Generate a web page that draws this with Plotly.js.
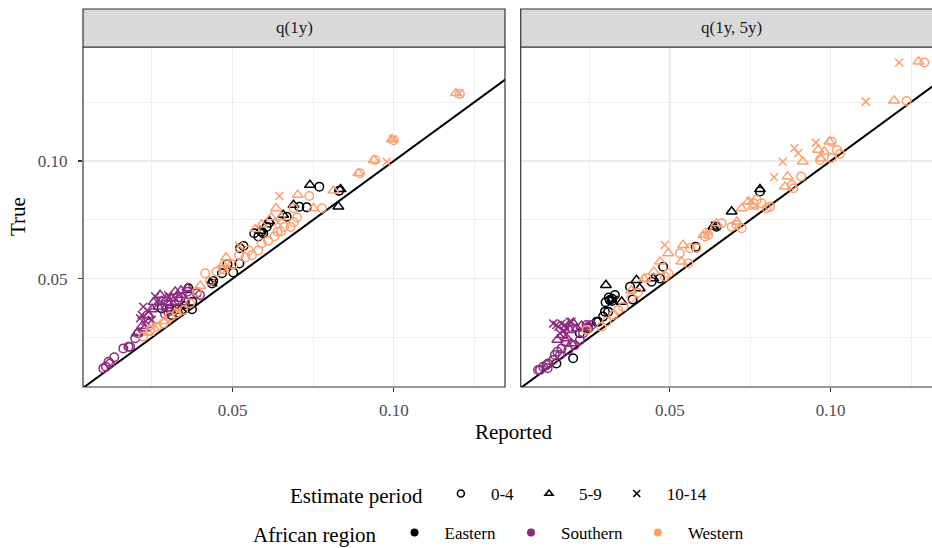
<!DOCTYPE html>
<html>
<head>
<meta charset="utf-8">
<script src="https://cdn.plot.ly/plotly-3.0.1.min.js"></script>
<style>html,body{margin:0;padding:0;background:#fff;}#chart{width:932px;height:548px;}</style>
</head>
<body>
<div id="chart"></div>
<script>
// ---------- data ----------
const panels = ["q(1y)", "q(1y, 5y)"];
const regions = ["Eastern", "Southern", "Western"];
const periods = ["0-4", "5-9", "10-14"];
const tickVals = [0.05, 0.10];
const tickText = ["0.05", "0.10"];
const identityLine = [0, 0.2];

// Panel q(1y)
const q1y_eastern_04_x = [0.0769,0.0830,0.0707,0.0730,0.0668,0.0613,0.0606,0.0567,0.0595,0.0580,0.0523,0.0534,0.0484,0.0521,0.0467,0.0502,0.0436,0.0440,0.0363,0.0375,0.0280,0.0306,0.0327,0.0347,0.0374,0.0311,0.0590,0.0330];
const q1y_eastern_04_y = [0.0891,0.0873,0.0806,0.0803,0.0763,0.0738,0.0721,0.0693,0.0693,0.0679,0.0629,0.0639,0.0561,0.0565,0.0523,0.0526,0.0480,0.0490,0.0459,0.0402,0.0374,0.0370,0.0370,0.0370,0.0370,0.0346,0.0700,0.0355];
const q1y_eastern_59_x = [0.0740,0.0835,0.0828,0.0689,0.0657,0.0613,0.0585,0.0350];
const q1y_eastern_59_y = [0.0898,0.0880,0.0806,0.0813,0.0771,0.0745,0.0703,0.0385];
const q1y_eastern_1014_x = [0.0440,0.0345];
const q1y_eastern_1014_y = [0.0485,0.0375];

const q1y_southern_04_x = [0.0099,0.0107,0.0115,0.0120,0.0133,0.0161,0.0177,0.0182,0.0198,0.0208,0.0240,0.0311,0.0332,0.0353,0.0368,0.0389,0.0399,0.0320,0.0300,0.0340,0.0360,0.0290];
const q1y_southern_04_y = [0.0119,0.0126,0.0147,0.0140,0.0166,0.0204,0.0211,0.0211,0.0247,0.0268,0.0310,0.0374,0.0409,0.0402,0.0431,0.0438,0.0431,0.0390,0.0360,0.0420,0.0445,0.0350];
const q1y_southern_59_x = [0.0275,0.0322,0.0296,0.0228,0.0203,0.0340,0.0255,0.0250,0.0270,0.0300,0.0330,0.0360,0.0220,0.0310,0.0240];
const q1y_southern_59_y = [0.0431,0.0445,0.0417,0.0289,0.0268,0.0450,0.0400,0.0370,0.0380,0.0400,0.0430,0.0460,0.0300,0.0415,0.0345];
const q1y_southern_1014_x = [0.0223,0.0213,0.0249,0.0239,0.0260,0.0270,0.0290,0.0300,0.0230,0.0218];
const q1y_southern_1014_y = [0.0381,0.0332,0.0325,0.0360,0.0424,0.0410,0.0390,0.0430,0.0320,0.0346];

const q1y_western_04_x = [0.0223,0.0244,0.0265,0.0285,0.0306,0.0327,0.0347,0.0368,0.0389,0.0415,0.0430,0.0450,0.0470,0.0500,0.0520,0.0540,0.0550,0.0560,0.0580,0.0590,0.0610,0.0630,0.0640,0.0650,0.0660,0.0680,0.0690,0.0700,0.0689,0.0777,0.0738,0.0895,0.0942,0.1000,0.1205];
const q1y_western_04_y = [0.0254,0.0282,0.0296,0.0310,0.0339,0.0353,0.0367,0.0395,0.0445,0.0523,0.0490,0.0530,0.0540,0.0560,0.0600,0.0590,0.0620,0.0600,0.0620,0.0650,0.0660,0.0680,0.0700,0.0700,0.0720,0.0720,0.0740,0.0760,0.0799,0.0799,0.0851,0.0948,0.1004,0.1088,0.1285];
const q1y_western_59_x = [0.1193,0.0994,0.0938,0.0890,0.0813,0.0702,0.0635,0.0751,0.0620,0.0590,0.0570,0.0480,0.0470,0.0400,0.0290,0.0240,0.0650];
const q1y_western_59_y = [0.1288,0.1092,0.1004,0.0948,0.0874,0.0856,0.0799,0.0799,0.0760,0.0730,0.0710,0.0590,0.0560,0.0470,0.0320,0.0270,0.0760];
const q1y_western_1014_x = [0.1203,0.0997,0.0978,0.0645,0.0520,0.0640,0.0480,0.0330,0.0260];
const q1y_western_1014_y = [0.1288,0.1092,0.0997,0.0851,0.0640,0.0740,0.0540,0.0360,0.0300];

// Panel q(1y, 5y)
const q1y5y_eastern_04_x = [0.0780,0.0645,0.0580,0.0479,0.0469,0.0443,0.0376,0.0384,0.0329,0.0313,0.0300,0.0320,0.0298,0.0272,0.0246,0.0220,0.0147,0.0199,0.0277,0.0292,0.0308,0.0320,0.0310];
const q1y5y_eastern_04_y = [0.0870,0.0721,0.0636,0.0551,0.0501,0.0487,0.0466,0.0412,0.0431,0.0409,0.0400,0.0415,0.0360,0.0317,0.0289,0.0268,0.0140,0.0162,0.0317,0.0339,0.0360,0.0405,0.0420];
const q1y5y_eastern_59_x = [0.0780,0.0692,0.0635,0.0301,0.0396,0.0406,0.0448,0.0350];
const q1y5y_eastern_59_y = [0.0880,0.0785,0.0721,0.0473,0.0494,0.0459,0.0501,0.0402];
const q1y5y_eastern_1014_x = [0.0325,0.0640];
const q1y5y_eastern_1014_y = [0.0410,0.0725];

const q1y5y_southern_04_x = [0.0090,0.0096,0.0106,0.0116,0.0121,0.0137,0.0142,0.0158,0.0163,0.0184,0.0204,0.0220,0.0230,0.0241,0.0246,0.0256,0.0120,0.0150,0.0175];
const q1y5y_southern_04_y = [0.0112,0.0112,0.0126,0.0133,0.0140,0.0155,0.0176,0.0176,0.0204,0.0197,0.0218,0.0239,0.0268,0.0303,0.0296,0.0303,0.0120,0.0190,0.0230];
const q1y5y_southern_59_x = [0.0189,0.0210,0.0179,0.0194,0.0241,0.0165,0.0200,0.0225,0.0150];
const q1y5y_southern_59_y = [0.0282,0.0289,0.0247,0.0225,0.0289,0.0260,0.0310,0.0300,0.0240];
const q1y5y_southern_1014_x = [0.0137,0.0153,0.0173,0.0189,0.0158,0.0147,0.0163,0.0178,0.0194,0.0170];
const q1y5y_southern_1014_y = [0.0310,0.0296,0.0303,0.0317,0.0268,0.0303,0.0310,0.0289,0.0317,0.0280];

const q1y5y_western_04_x = [0.1291,0.1236,0.1003,0.1019,0.1029,0.0967,0.1003,0.0908,0.0884,0.0801,0.0770,0.0785,0.0811,0.0692,0.0708,0.0723,0.0661,0.0609,0.0619,0.0562,0.0583,0.0531,0.0557,0.0495,0.0484,0.0427,0.0241,0.0287,0.0303,0.0324,0.0339,0.0355,0.0380,0.0400,0.0879,0.0760];
const q1y5y_western_04_y = [0.1418,0.1255,0.1082,0.1047,0.1030,0.1004,0.1012,0.0934,0.0884,0.0799,0.0834,0.0820,0.0806,0.0721,0.0728,0.0714,0.0735,0.0679,0.0686,0.0629,0.0629,0.0608,0.0565,0.0523,0.0508,0.0502,0.0282,0.0296,0.0317,0.0346,0.0367,0.0381,0.0420,0.0440,0.0898,0.0820];
const q1y5y_western_59_x = [0.1273,0.1197,0.0996,0.0961,0.0913,0.0866,0.0858,0.0723,0.0744,0.0759,0.0708,0.0645,0.0604,0.0541,0.0536,0.0495,0.0469,0.0450,0.0420,0.0380,0.0980,0.0970];
const q1y5y_western_59_y = [0.1422,0.1256,0.1082,0.1047,0.0997,0.0934,0.0891,0.0799,0.0827,0.0806,0.0742,0.0735,0.0686,0.0643,0.0572,0.0608,0.0572,0.0530,0.0500,0.0450,0.1040,0.1010];
const q1y5y_western_1014_x = [0.1213,0.1109,0.0954,0.0887,0.0899,0.0851,0.0824,0.0484,0.0750,0.0620];
const q1y5y_western_1014_y = [0.1418,0.1252,0.1078,0.1054,0.1033,0.0997,0.0931,0.0643,0.0830,0.0700];

// ---------- style ----------
const FONT = "Liberation Serif, Times New Roman, serif";
const regionColors = {Eastern: "#000004", Southern: "#8C2981", Western: "#FE9F6D"};
const periodSymbols = {"0-4": "circle-open", "5-9": "triangle-up-open", "10-14": "x-thin-open"};
const periodSizes = {"0-4": 8.5, "5-9": 9.5, "10-14": 8};

const series = {
  "q(1y)": {
    Eastern: [[q1y_eastern_04_x,q1y_eastern_04_y],[q1y_eastern_59_x,q1y_eastern_59_y],[q1y_eastern_1014_x,q1y_eastern_1014_y]],
    Southern: [[q1y_southern_04_x,q1y_southern_04_y],[q1y_southern_59_x,q1y_southern_59_y],[q1y_southern_1014_x,q1y_southern_1014_y]],
    Western: [[q1y_western_04_x,q1y_western_04_y],[q1y_western_59_x,q1y_western_59_y],[q1y_western_1014_x,q1y_western_1014_y]]
  },
  "q(1y, 5y)": {
    Eastern: [[q1y5y_eastern_04_x,q1y5y_eastern_04_y],[q1y5y_eastern_59_x,q1y5y_eastern_59_y],[q1y5y_eastern_1014_x,q1y5y_eastern_1014_y]],
    Southern: [[q1y5y_southern_04_x,q1y5y_southern_04_y],[q1y5y_southern_59_x,q1y5y_southern_59_y],[q1y5y_southern_1014_x,q1y5y_southern_1014_y]],
    Western: [[q1y5y_western_04_x,q1y5y_western_04_y],[q1y5y_western_59_x,q1y5y_western_59_y],[q1y5y_western_1014_x,q1y5y_western_1014_y]]
  }
};

const traces = [];
panels.forEach((p, pi) => {
  const xa = pi === 0 ? "x" : "x2";
  traces.push({x: identityLine, y: identityLine, xaxis: xa, yaxis: "y", mode: "lines",
    line: {color: "#000000", width: 2}, showlegend: false, hoverinfo: "skip"});
  regions.forEach(r => {
    periods.forEach((per, k) => {
      const d = series[p][r][k];
      traces.push({x: d[0], y: d[1], xaxis: xa, yaxis: "y", mode: "markers", showlegend: false,
        marker: {symbol: periodSymbols[per], size: periodSizes[per], color: regionColors[r],
                 line: {color: regionColors[r], width: 1.5}}});
    });
  });
});
// legend entries
periods.forEach(per => {
  traces.push({x: [null], y: [null], mode: "markers", name: per, legend: "legend",
    marker: {symbol: periodSymbols[per], size: 7, color: "#000", line: {color: "#000", width: 1.6}}});
});
regions.forEach(r => {
  traces.push({x: [null], y: [null], mode: "markers", name: r, legend: "legend2",
    marker: {symbol: "circle", size: 8, color: regionColors[r]}});
});

const axisCommon = {
  range: [0.0036, 0.1345], tickvals: tickVals, ticktext: tickText,
  showgrid: true, gridcolor: "#EBEBEB", gridwidth: 1.4, zeroline: false,
  ticks: "outside", ticklen: 4, tickwidth: 1.1, tickcolor: "#333333",
  tickfont: {family: FONT, size: 17, color: "#4D4D4D"},
  minor: {tickvals: [0.025, 0.075, 0.125], showgrid: true, gridcolor: "#EBEBEB", gridwidth: 0.8, ticks: ""},
  showline: false, fixedrange: true, automargin: false
};

const stripH = 38 / 340;
const xL0 = 0, xL1 = 422 / 849, xR0 = (520.7 - 83) / 849, xR1 = (942.7 - 83) / 849;

const shapes = [
  {type: "rect", xref: "paper", yref: "paper", x0: xL0, x1: xL1, y0: 0, y1: 1, line: {color: "#333333", width: 1.2}, fillcolor: "rgba(0,0,0,0)", layer: "above"},
  {type: "rect", xref: "paper", yref: "paper", x0: xR0, x1: xR1, y0: 0, y1: 1, line: {color: "#333333", width: 1.2}, fillcolor: "rgba(0,0,0,0)", layer: "above"},
  {type: "rect", xref: "paper", yref: "paper", x0: xL0, x1: xL1, y0: 1, y1: 1 + stripH, line: {color: "#333333", width: 1.2}, fillcolor: "#D9D9D9"},
  {type: "rect", xref: "paper", yref: "paper", x0: xR0, x1: xR1, y0: 1, y1: 1 + stripH, line: {color: "#333333", width: 1.2}, fillcolor: "#D9D9D9"}
];

const annotations = [
  {text: panels[0], xref: "paper", yref: "paper", x: (xL0 + xL1) / 2, y: 1 + stripH / 2, showarrow: false, xanchor: "center", yanchor: "middle", font: {family: FONT, size: 17, color: "#1A1A1A"}},
  {text: panels[1], xref: "paper", yref: "paper", x: (xR0 + xR1) / 2, y: 1 + stripH / 2, showarrow: false, xanchor: "center", yanchor: "middle", font: {family: FONT, size: 17, color: "#1A1A1A"}},
  {text: "Reported", xref: "paper", yref: "paper", x: (513 - 83) / 849, y: (387 - 432) / 340, showarrow: false, xanchor: "center", yanchor: "middle", font: {family: FONT, size: 21, color: "#000"}},
  {text: "True", xref: "paper", yref: "paper", x: (18 - 83) / 849, y: 0.5, textangle: -90, showarrow: false, xanchor: "center", yanchor: "middle", font: {family: FONT, size: 21, color: "#000"}}
];

const layout = {
  width: 932, height: 548,
  margin: {l: 83, r: 0, t: 47, b: 161, autoexpand: false},
  paper_bgcolor: "#ffffff", plot_bgcolor: "#ffffff",
  font: {family: FONT, color: "#000"},
  xaxis: Object.assign({}, axisCommon, {domain: [xL0, xL1], anchor: "y", ticklabelstandoff: 4}),
  xaxis2: Object.assign({}, axisCommon, {domain: [xR0, 1], range: [0.0036, 0.1315], anchor: "y", ticklabelstandoff: 4}),
  yaxis: Object.assign({}, axisCommon, {range: [0.0040, 0.1484], anchor: "x", ticklabelstandoff: 7}),
  showlegend: true,
  legend: {orientation: "h", title: {text: "Estimate period", side: "left", font: {family: FONT, size: 21, color: "#000"}},
    font: {family: FONT, size: 17, color: "#000"}, x: (500 - 83) / 849, xanchor: "center", y: (387 - 476) / 340, yanchor: "top",
    bgcolor: "rgba(0,0,0,0)", itemwidth: 50},
  legend2: {orientation: "h", title: {text: "African region", side: "left", font: {family: FONT, size: 21, color: "#000"}},
    font: {family: FONT, size: 17, color: "#000"}, x: (500 - 83) / 849, xanchor: "center", y: (387 - 515) / 340, yanchor: "top",
    bgcolor: "rgba(0,0,0,0)", itemwidth: 50},
  shapes: shapes,
  annotations: annotations,
  hovermode: false
};

Plotly.newPlot("chart", traces, layout, {displayModeBar: false, staticPlot: true});
</script>
</body>
</html>
